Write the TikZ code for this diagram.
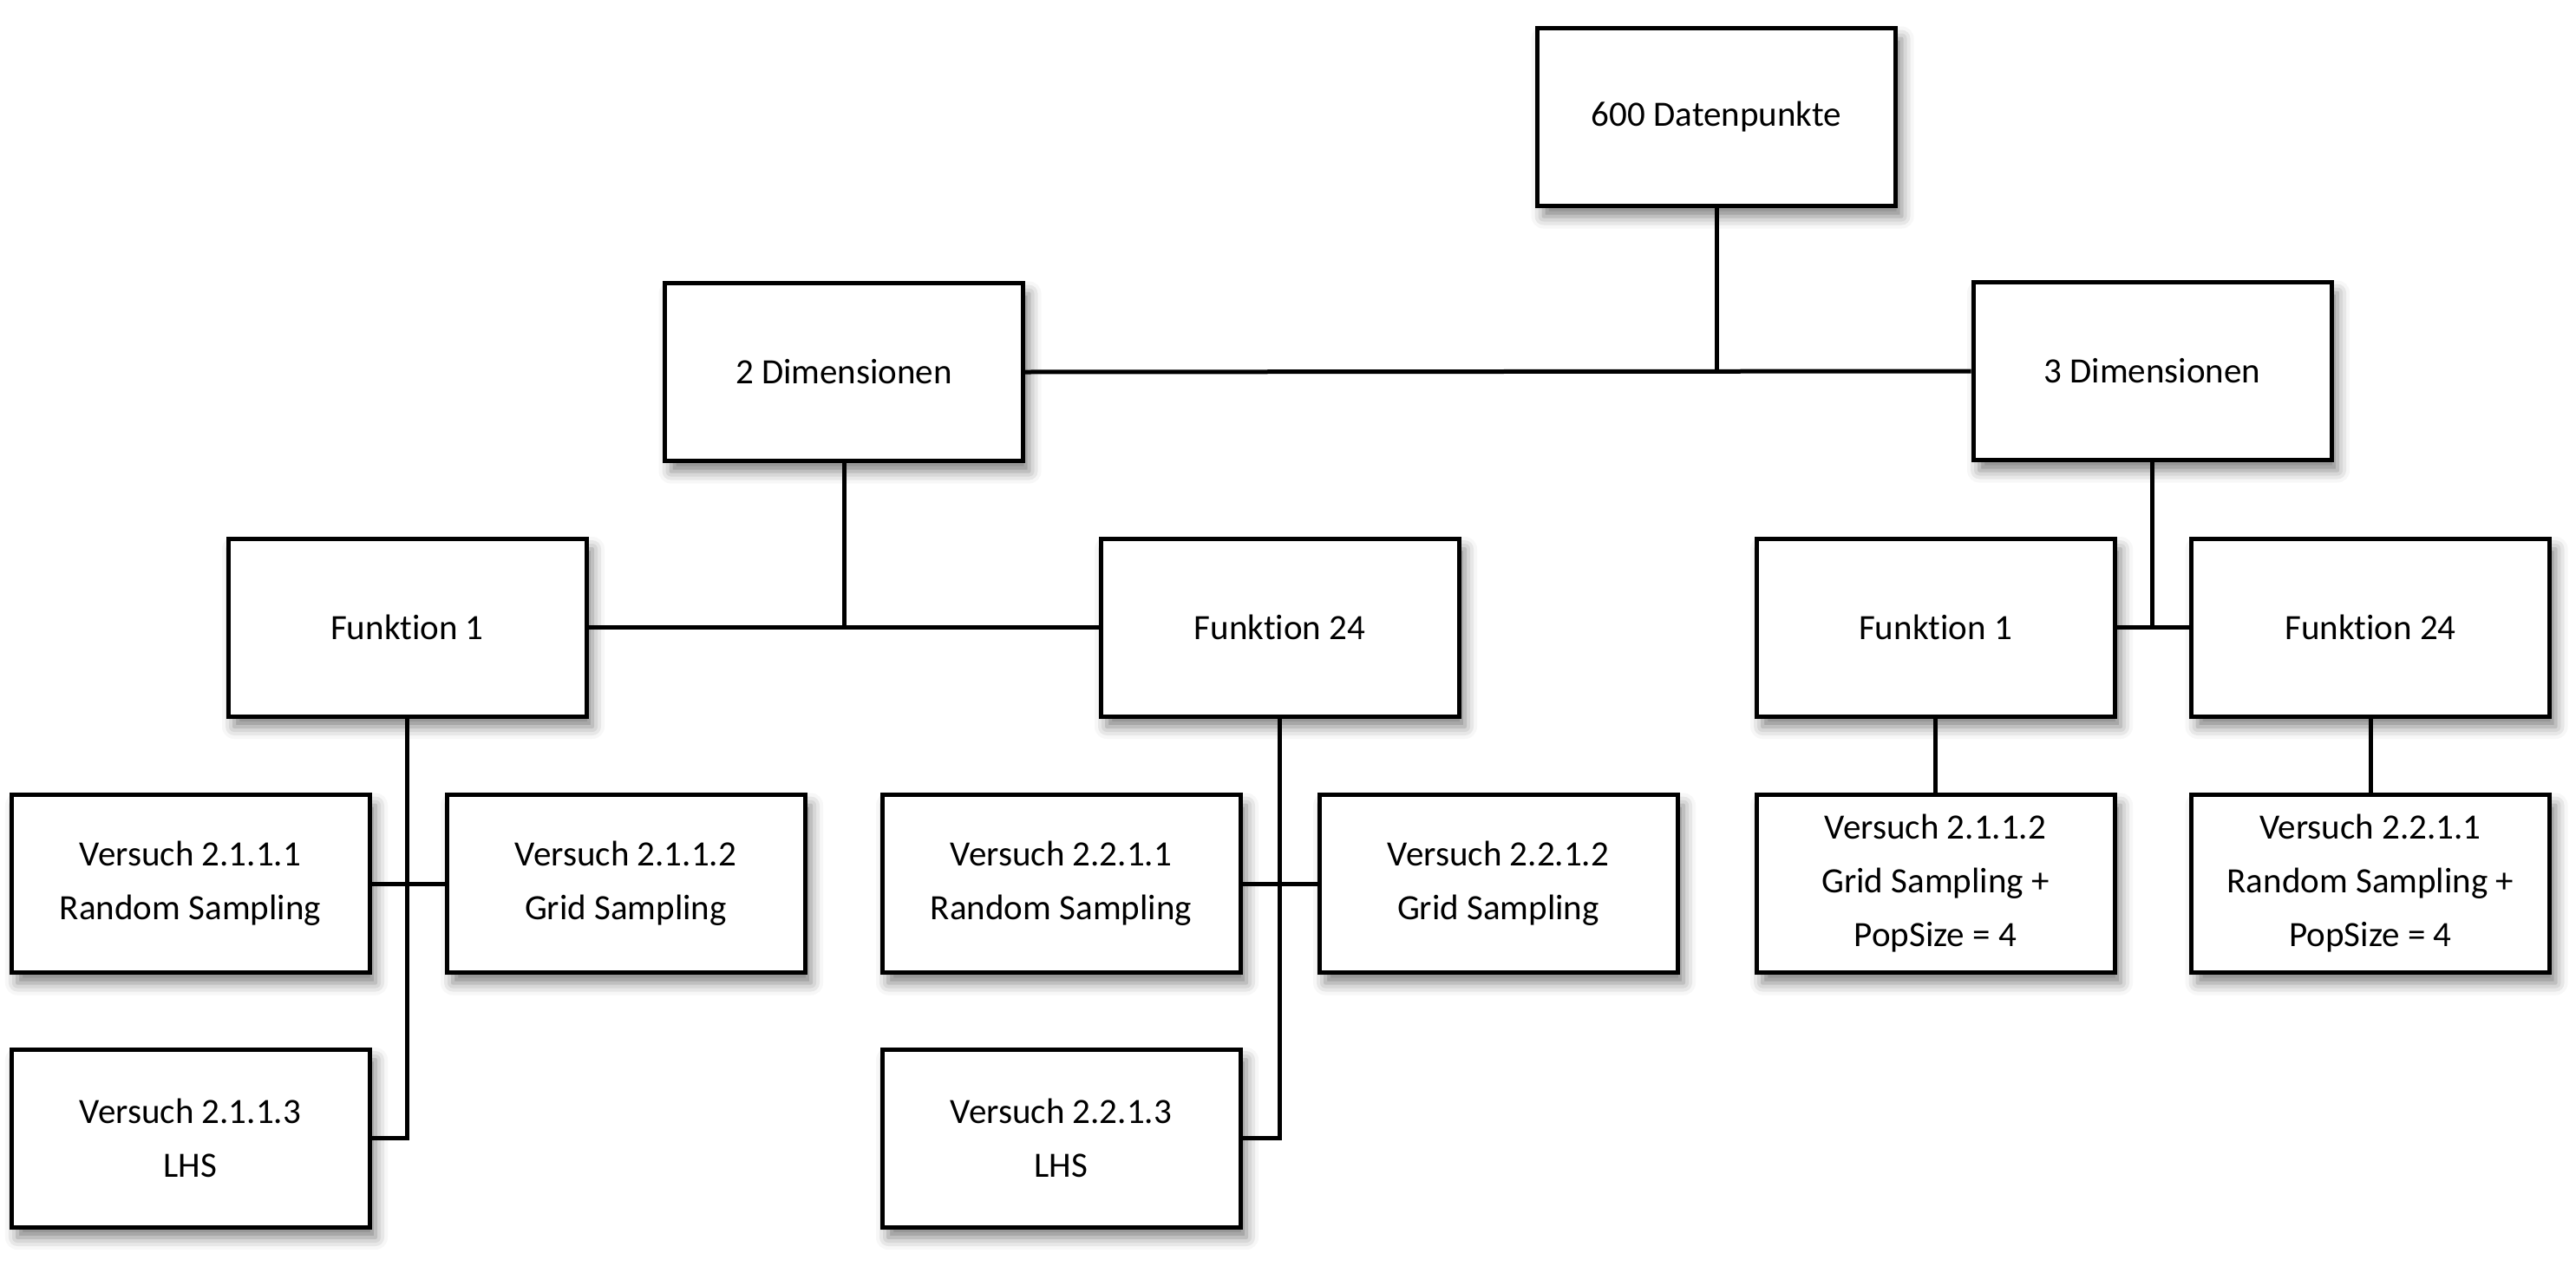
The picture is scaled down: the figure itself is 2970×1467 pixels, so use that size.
\documentclass[tikz,border=0pt]{standalone}
\usepackage{fontspec}
\setmainfont[Ligatures=CommonOff]{Carlito}
\usetikzlibrary{shadows.blur}
\begin{document}
\begin{tikzpicture}[x=0.5pt,y=-0.5pt,
  box/.style={draw=black, line width=2.5pt, fill=white, minimum width=206.5pt, minimum height=102.5pt,
    inner sep=0pt, align=center, font=\fontsize{20.5pt}{31pt}\selectfont,
    blur shadow={shadow xshift=3.5pt, shadow yshift=-6pt, shadow blur radius=7pt, shadow opacity=50}},
  conn/.style={draw=black, line width=2.5pt}]
\useasboundingbox (0,0) rectangle (2970,1467);
\node[box] (top) at (1979,135) {600 Datenpunkte};
\node[box] (dim2) at (973,429) {2 Dimensionen};
\node[box] (dim3) at (2481.5,428) {3 Dimensionen};
\node[box] (fA1) at (469.5,723.5) {Funktion 1};
\node[box] (fA24) at (1475.5,723.5) {Funktion 24};
\node[box] (fB1) at (2231.5,723.5) {Funktion 1};
\node[box] (fB24) at (2733,723.5) {Funktion 24};
\node[box] (vA1) at (219.5,1019) {Versuch 2.1.1.1\\Random Sampling};
\node[box] (vA2) at (721.5,1019) {Versuch 2.1.1.2\\Grid Sampling};
\node[box] (vA3) at (219.5,1312.5) {Versuch 2.1.1.3\\LHS};
\node[box] (vB1) at (1223.5,1019) {Versuch 2.2.1.1\\Random Sampling};
\node[box] (vB2) at (1727.5,1019) {Versuch 2.2.1.2\\Grid Sampling};
\node[box] (vB3) at (1223.5,1312.5) {Versuch 2.2.1.3\\LHS};
\node[box] (vC) at (2231.5,1019) {Versuch 2.1.1.2\\Grid Sampling +\\PopSize = 4};
\node[box] (vD) at (2733,1019) {Versuch 2.2.1.1\\Random Sampling +\\PopSize = 4};
% connectors
\draw[conn] (top.south) -- (top.south |- dim2.east);
\draw[conn] (dim2.east) -- (dim3.west);
\draw[conn] (dim2.south) -- (dim2.south |- fA1.east);
\draw[conn] (fA1.east) -- (fA24.west);
\draw[conn] (dim3.south) -- (dim3.south |- fB1.east);
\draw[conn] (fB1.east) -- (fB24.west);
\draw[conn] (fA1.south) |- (vA3.east);
\draw[conn] (vA1.east) -- (vA2.west);
\draw[conn] (fA24.south) |- (vB3.east);
\draw[conn] (vB1.east) -- (vB2.west);
\draw[conn] (fB1.south) -- (vC.north);
\draw[conn] (fB24.south) -- (vD.north);
\end{tikzpicture}
\end{document}
